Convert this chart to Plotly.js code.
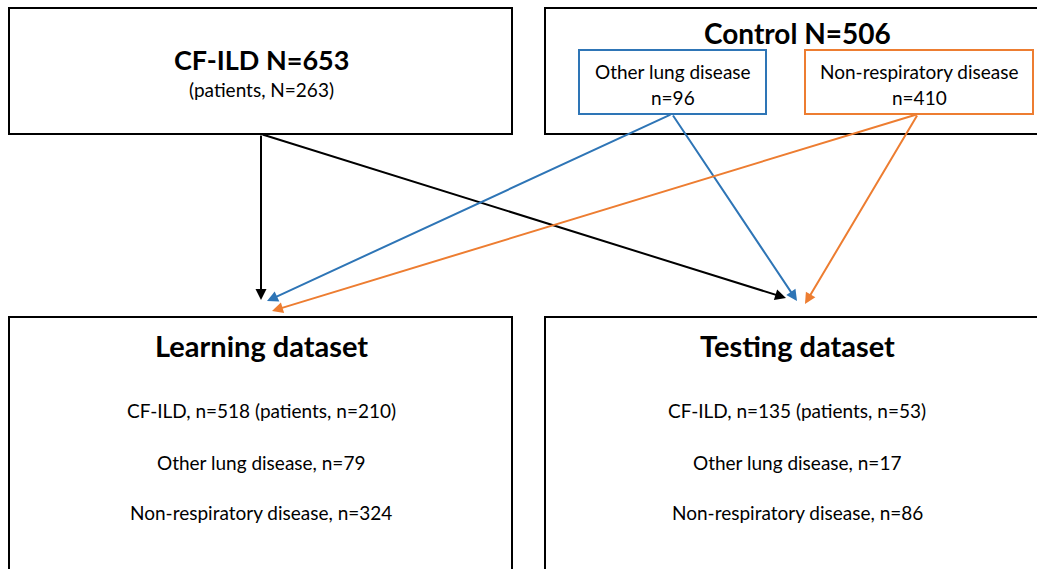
<!DOCTYPE html>
<html>
<head>
<meta charset="utf-8">
<script src="https://cdn.plot.ly/plotly-3.0.1.min.js"></script>
<style>html,body{margin:0;padding:0;background:#fff;}#chart{width:1037px;height:569px;}</style>
</head>
<body>
<div id="chart"></div>
<script>
// ---- data ----
var sourceGroups = ['CF-ILD', 'Control'];
var sourceTotals = [653, 506];
var cfildPatients = 263;
var controlSubgroups = ['Other lung disease', 'Non-respiratory disease'];
var controlSubgroupN = [96, 410];
var splitNames = ['Learning dataset', 'Testing dataset'];
var splitRowLabels = ['CF-ILD', 'Other lung disease', 'Non-respiratory disease'];
var learningN = [518, 79, 324];
var learningPatients = 210;
var testingN = [135, 17, 86];
var testingPatients = 53;

// ---- layout geometry (pixels, y downward) ----
var FONT = 'Lato, "Open Sans", sans-serif';
var BLUE = '#2E75B6', ORANGE = '#ED7D31', BLACK = '#000000';
var shapes = [], ann = [];
function box(x0, y0, x1, y1, color, w) {
  shapes.push({type: 'rect', xref: 'x', yref: 'y', x0: x0, y0: y0, x1: x1, y1: y1,
    line: {color: color, width: w}, fillcolor: 'rgba(0,0,0,0)'});
}
function txt(x, y, s, size, bold) {
  ann.push({xref: 'x', yref: 'y', x: x, y: y, text: bold ? '<b>' + s + '</b>' : s,
    showarrow: false, xanchor: 'center', yanchor: 'middle',
    font: {family: FONT, size: size, color: '#000'}});
}
function arrow(x0, y0, x1, y1, color) {
  ann.push({xref: 'x', yref: 'y', axref: 'x', ayref: 'y', x: x1, y: y1, ax: x0, ay: y0,
    text: '', showarrow: true, arrowhead: 2, arrowsize: 1.1, arrowwidth: 2, arrowcolor: color,
    standoff: 0, startstandoff: 0});
}

// source boxes
box(9, 8, 512, 134, BLACK, 2);
box(545, 8, 1060, 134, BLACK, 2);
txt(261, 59, sourceGroups[0] + ' N=' + sourceTotals[0], 27, true);
txt(261, 89, '(patients, N=' + cfildPatients + ')', 19, false);
txt(797, 33, sourceGroups[1] + ' N=' + sourceTotals[1], 28, true);

// control subgroup boxes
var subBoxes = [[579, 766, BLUE], [805, 1033, ORANGE]];
for (var i = 0; i < controlSubgroups.length; i++) {
  var b = subBoxes[i];
  box(b[0], 50, b[1], 114, b[2], 2);
  var cx = (b[0] + b[1]) / 2;
  txt(cx, 71, controlSubgroups[i], 19, false);
  txt(cx, 97, 'n=' + controlSubgroupN[i], 19, false);
}

// destination boxes
var destX = [[9, 512], [545, 1060]];
var destCounts = [learningN, testingN];
var destPatients = [learningPatients, testingPatients];
var destCenters = [261, 797];
for (var j = 0; j < splitNames.length; j++) {
  box(destX[j][0], 317, destX[j][1], 600, BLACK, 2);
  txt(destCenters[j], 345, splitNames[j], 29, true);
  var rowsY = [410, 462, 512];
  for (var k = 0; k < splitRowLabels.length; k++) {
    var s = splitRowLabels[k] + ', n=' + destCounts[j][k];
    if (k === 0) s += ' (patients, n=' + destPatients[j] + ')';
    txt(destCenters[j], rowsY[k], s, 19, false);
  }
}

// arrows
arrow(261, 134, 261, 300, BLACK);
arrow(261, 134, 786, 298, BLACK);
arrow(672, 114, 267, 301, BLUE);
arrow(672, 114, 797, 301, BLUE);
arrow(918, 114, 272, 311, ORANGE);
arrow(918, 114, 805, 304, ORANGE);

var layout = {
  width: 1037, height: 569,
  margin: {l: 0, r: 0, t: 0, b: 0, pad: 0},
  paper_bgcolor: '#fff', plot_bgcolor: '#fff',
  showlegend: false,
  xaxis: {range: [0, 1037], visible: false, fixedrange: true},
  yaxis: {range: [569, 0], visible: false, fixedrange: true},
  shapes: shapes,
  annotations: ann
};
Plotly.newPlot('chart', [{x: [0], y: [0], mode: 'markers', marker: {opacity: 0}, hoverinfo: 'skip'}], layout, {staticPlot: true, displayModeBar: false});
</script>
</body>
</html>
